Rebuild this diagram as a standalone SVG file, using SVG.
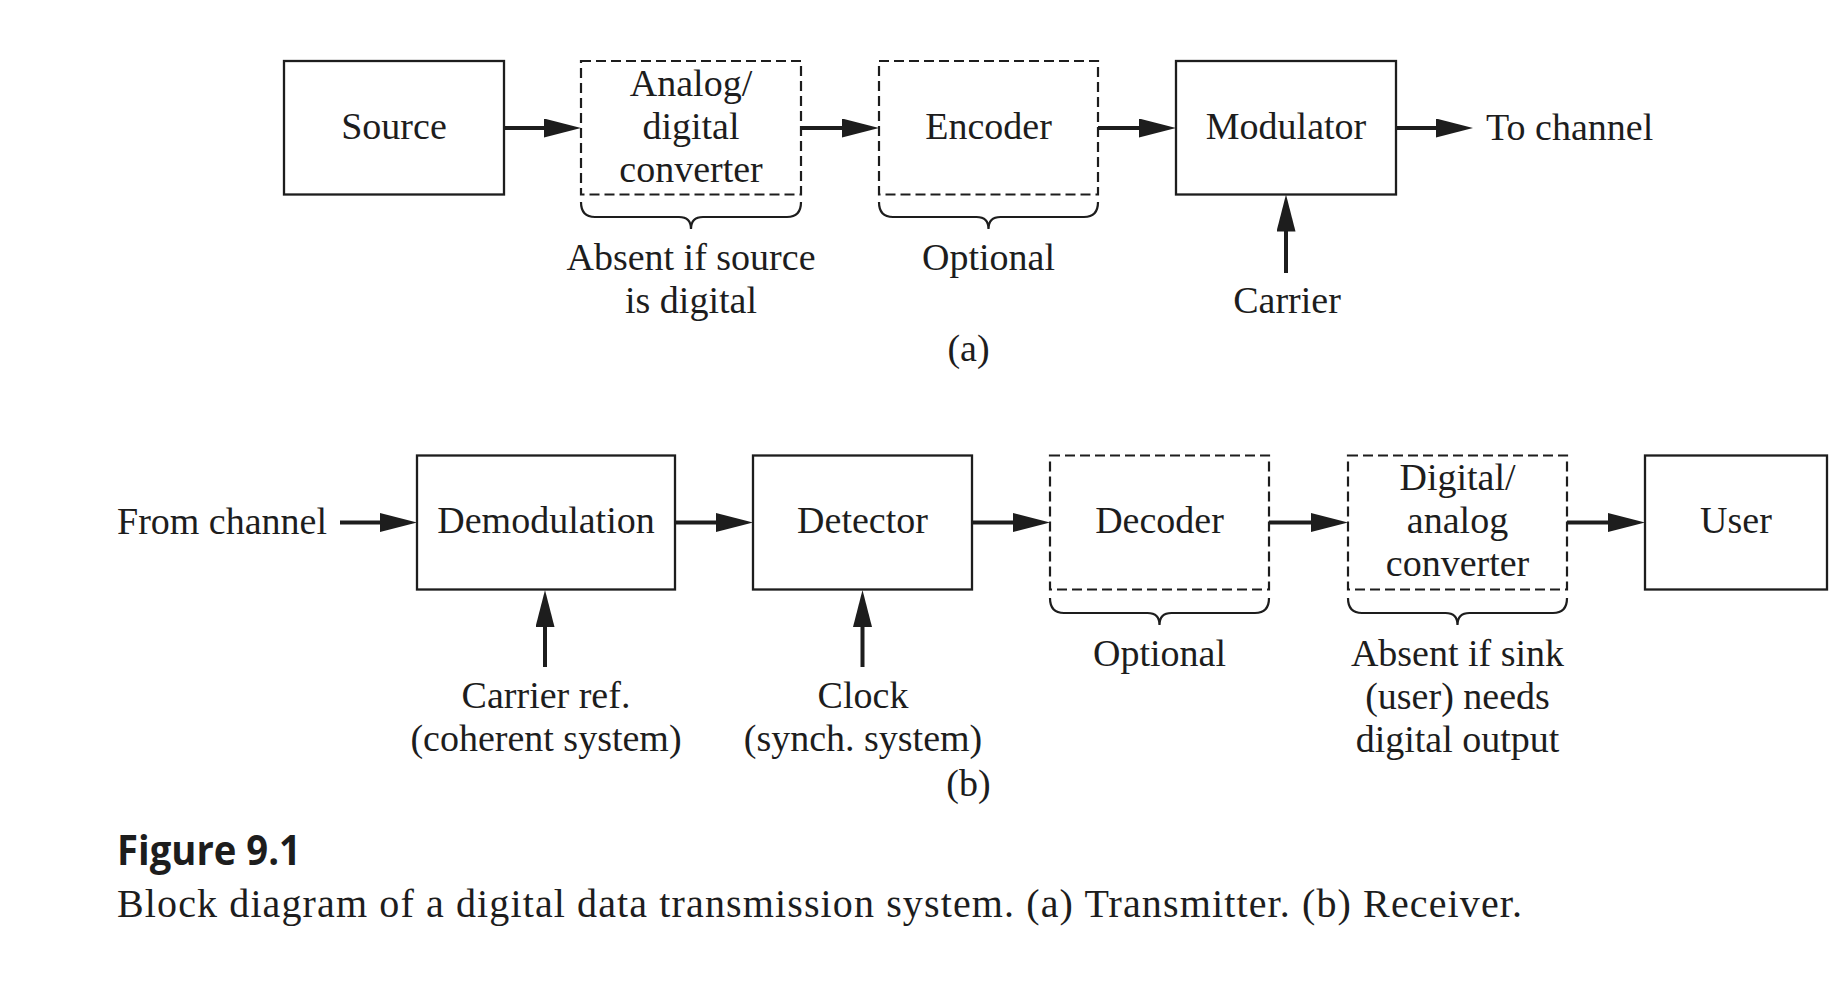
<svg xmlns="http://www.w3.org/2000/svg" width="1841" height="999" viewBox="0 0 1841 999">
<style>
.box{fill:none;stroke:#1d1d1d;stroke-width:2.3}
.dbox{fill:none;stroke:#1d1d1d;stroke-width:2.2;stroke-dasharray:10 5}
.arr{stroke:#1d1d1d;stroke-width:4;fill:none;marker-end:url(#ah)}
.brace{fill:none;stroke:#1d1d1d;stroke-width:2.2}
text{font-family:"Liberation Serif","Times New Roman",serif;font-size:38px;fill:#1d1d1d}
.c{text-anchor:middle}
.fig{font-family:"Open Sans","Liberation Sans",sans-serif;font-weight:bold;font-size:41px}
.cap{font-size:40px}
</style>
<defs>
<marker id="ah" markerUnits="userSpaceOnUse" viewBox="0 0 37 19" refX="7" refY="9.5" markerWidth="37" markerHeight="19" orient="auto">
<path d="M0,0 L37,9.5 L0,19 Z" fill="#1d1d1d"/>
</marker>
</defs>

<g id="connectors">
<line class="arr" x1="504" y1="128" x2="551" y2="128"/>
<line class="arr" x1="801" y1="128" x2="849" y2="128"/>
<line class="arr" x1="1098" y1="128" x2="1146" y2="128"/>
<line class="arr" x1="1396" y1="128" x2="1443" y2="128"/>
<line class="arr" x1="1286" y1="273" x2="1286" y2="224.5"/>
<line class="arr" x1="340" y1="522.5" x2="387" y2="522.5"/>
<line class="arr" x1="675" y1="522.5" x2="723" y2="522.5"/>
<line class="arr" x1="972" y1="522.5" x2="1020" y2="522.5"/>
<line class="arr" x1="1269" y1="522.5" x2="1318" y2="522.5"/>
<line class="arr" x1="1567" y1="522.5" x2="1615" y2="522.5"/>
<line class="arr" x1="545" y1="667" x2="545" y2="620"/>
<line class="arr" x1="862.5" y1="667" x2="862.5" y2="620"/>
</g>

<g id="source">
<rect class="box" x="284" y="61" width="220" height="133.5"/>
<text class="c" x="394" y="138.5">Source</text>
</g>
<g id="ad-converter">
<rect class="dbox" x="581" y="61" width="220" height="133.5"/>
<text class="c" x="691" y="95.5">Analog/</text>
<text class="c" x="691" y="138.5">digital</text>
<text class="c" x="691" y="181.5">converter</text>
<path class="brace" d="M581,202 Q581,217 595,217 L679,217 Q691,217 691,229 Q691,217 703,217 L787,217 Q801,217 801,202"/>
<text class="c" x="691" y="270">Absent if source</text>
<text class="c" x="691" y="313">is digital</text>
</g>
<g id="encoder">
<rect class="dbox" x="879" y="61" width="219" height="133.5"/>
<text class="c" x="988.5" y="138.5">Encoder</text>
<path class="brace" d="M879,202 Q879,217 893,217 L976.5,217 Q988.5,217 988.5,229 Q988.5,217 1000.5,217 L1084,217 Q1098,217 1098,202"/>
<text class="c" x="988.5" y="270">Optional</text>
</g>
<g id="modulator">
<rect class="box" x="1176" y="61" width="220" height="133.5"/>
<text class="c" x="1286" y="138.5">Modulator</text>
</g>
<g id="to-channel">
<text x="1486" y="140">To channel</text>
</g>
<g id="carrier">
<text class="c" x="1287" y="313">Carrier</text>
</g>
<g id="label-a">
<text class="c" x="968.5" y="361">(a)</text>
</g>

<g id="from-channel">
<text x="117" y="533.5">From channel</text>
</g>
<g id="demodulation">
<rect class="box" x="417" y="455.5" width="258" height="134"/>
<text class="c" x="546" y="533">Demodulation</text>
</g>
<g id="detector">
<rect class="box" x="753" y="455.5" width="219" height="134"/>
<text class="c" x="862.5" y="533">Detector</text>
</g>
<g id="decoder">
<rect class="dbox" x="1050" y="455.5" width="219" height="134"/>
<text class="c" x="1159.5" y="533">Decoder</text>
<path class="brace" d="M1050,598 Q1050,613 1064,613 L1147.5,613 Q1159.5,613 1159.5,625 Q1159.5,613 1171.5,613 L1255,613 Q1269,613 1269,598"/>
<text class="c" x="1159.5" y="666">Optional</text>
</g>
<g id="da-converter">
<rect class="dbox" x="1348" y="455.5" width="219" height="134"/>
<text class="c" x="1457.5" y="490">Digital/</text>
<text class="c" x="1457.5" y="533">analog</text>
<text class="c" x="1457.5" y="576">converter</text>
<path class="brace" d="M1348,598 Q1348,613 1362,613 L1445.5,613 Q1457.5,613 1457.5,625 Q1457.5,613 1469.5,613 L1553,613 Q1567,613 1567,598"/>
<text class="c" x="1457.5" y="666">Absent if sink</text>
<text class="c" x="1457.5" y="709">(user) needs</text>
<text class="c" x="1457.5" y="752">digital output</text>
</g>
<g id="user">
<rect class="box" x="1645" y="455.5" width="182" height="134"/>
<text class="c" x="1736" y="533">User</text>
</g>
<g id="carrier-ref">
<text class="c" x="546" y="708">Carrier ref.</text>
<text class="c" x="546" y="751">(coherent system)</text>
</g>
<g id="clock">
<text class="c" x="863" y="708">Clock</text>
<text class="c" x="863" y="751">(synch. system)</text>
</g>
<g id="label-b">
<text class="c" x="968.5" y="796">(b)</text>
</g>

<g id="caption">
<text class="fig" x="117" y="865" textLength="184" lengthAdjust="spacingAndGlyphs">Figure 9.1</text>
<text class="cap" x="117" y="917" textLength="1405" lengthAdjust="spacing">Block diagram of a digital data transmission system. (a) Transmitter. (b) Receiver.</text>
</g>
</svg>
